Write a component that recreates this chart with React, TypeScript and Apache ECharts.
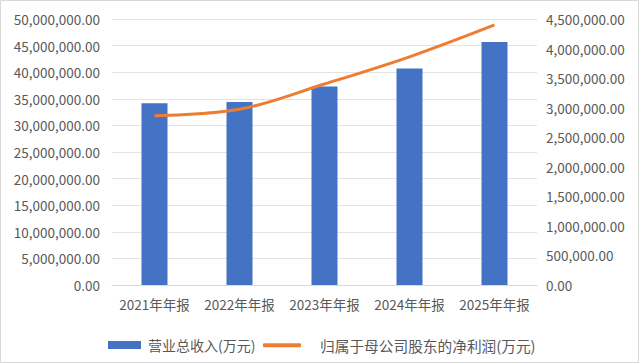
import React, { useEffect, useRef } from "react";
import * as echarts from "echarts";

const categories = ["2021年年报", "2022年年报", "2023年年报", "2024年年报", "2025年年报"];
const revenue = [34150000, 34400000, 37300000, 40700000, 45700000];
const netProfit = [2864000, 2972000, 3400000, 3860000, 4400000];
const revenueName = "营业总收入(万元)";
const profitName = "归属于母公司股东的净利润(万元)";

const FONT = "'Noto Sans CJK SC', 'Noto Sans', sans-serif";
const TEXT = "#595959";

const fmt = (v: number) =>
  v.toLocaleString("en-US", { minimumFractionDigits: 2, maximumFractionDigits: 2 });

export default function App() {
  const ref = useRef<HTMLDivElement>(null);
  useEffect(() => {
    if (!ref.current) return;
    const chart = echarts.init(ref.current, null, { renderer: "svg" });
    chart.setOption({
      animation: false,
      backgroundColor: "#ffffff",
      textStyle: { fontFamily: FONT },
      graphic: [
        {
          type: "rect",
          shape: { x: 0.5, y: 0.5, width: 638, height: 362 },
          style: { fill: "none", stroke: "#d9d9d9", lineWidth: 1 },
          silent: true,
        },
      ],
      grid: { left: 112, right: 103, top: 19, bottom: 79, containLabel: false },
      legend: [
        {
          left: 103,
          top: 333,
          itemWidth: 33,
          itemHeight: 8,
          itemGap: 0,
          data: [{ name: revenueName, icon: "rect" }],
          textStyle: { color: TEXT, fontSize: 14, fontFamily: FONT, padding: [0, 0, 0, 2] },
        },
        {
          left: 258,
          top: 333,
          itemWidth: 38,
          itemHeight: 4,
          data: [{ name: profitName, icon: "roundRect" }],
          textStyle: { color: TEXT, fontSize: 14.7, fontFamily: FONT, padding: [0, 0, 0, 14] },
        },
      ],
      xAxis: {
        type: "category",
        data: categories,
        axisLine: { lineStyle: { color: "#d9d9d9" } },
        axisTick: { show: false },
        axisLabel: { color: TEXT, fontSize: 13.5, fontFamily: FONT, margin: 12, interval: 0 },
      },
      yAxis: [
        {
          type: "value",
          min: 0,
          max: 50000000,
          interval: 5000000,
          axisLine: { show: false },
          axisTick: { show: false },
          splitLine: { lineStyle: { color: "#e3e3e3" } },
          axisLabel: { color: TEXT, fontSize: 13.5, fontFamily: FONT, margin: 12, formatter: fmt },
        },
        {
          type: "value",
          min: 0,
          max: 4500000,
          interval: 500000,
          axisLine: { show: false },
          axisTick: { show: false },
          splitLine: { show: false },
          axisLabel: { color: TEXT, fontSize: 13.5, fontFamily: FONT, margin: 9, formatter: fmt },
        },
      ],
      series: [
        {
          name: revenueName,
          type: "bar",
          data: revenue,
          barWidth: 26,
          itemStyle: { color: "#4472C4" },
          yAxisIndex: 0,
        },
        {
          name: profitName,
          type: "line",
          data: netProfit,
          yAxisIndex: 1,
          smooth: 0.35,
          symbol: "none",
          lineStyle: { color: "#ED7D31", width: 3 },
          itemStyle: { color: "#ED7D31" },
        },
      ],
    });
    return () => chart.dispose();
  }, []);
  return (
    <div
      ref={ref}
      style={{ position: "absolute", left: 0, top: 0, width: 640, height: 364 }}
    />
  );
}
